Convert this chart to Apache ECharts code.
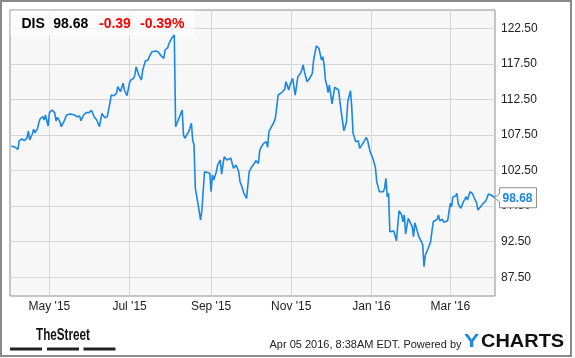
<!DOCTYPE html>
<html><head><meta charset="utf-8">
<script src="https://cdn.jsdelivr.net/npm/echarts@6/dist/echarts.min.js"></script>
<style>html,body{margin:0;padding:0;background:#fff}#c{width:575px;height:358px}</style>
</head><body><div id="c"></div>
<script>
const ticker = 'DIS', lastPrice = '98.68', change = '-0.39', changePct = '-0.39%';
const footerText = 'Apr 05 2016, 8:38AM EDT. Powered by';
const yTicks = [87.5, 92.5, 97.5, 102.5, 107.5, 112.5, 117.5, 122.5];
const xTickDates = ['2015-05-01','2015-07-01','2015-09-01','2015-11-01','2016-01-01','2016-03-01'];
const xTickLabels = ["May '15","Jul '15","Sep '15","Nov '15","Jan '16","Mar '16"];
const xStart = '2015-04-01', xEnd = '2016-04-04';
const dates = [
'2015-04-02','2015-04-05','2015-04-07','2015-04-08','2015-04-10','2015-04-12','2015-04-14','2015-04-15','2015-04-16','2015-04-18',
'2015-04-19','2015-04-20','2015-04-22','2015-04-23','2015-04-24','2015-04-26','2015-04-27','2015-04-28','2015-04-30','2015-05-01',
'2015-05-03','2015-05-05','2015-05-06','2015-05-07','2015-05-09','2015-05-10','2015-05-12','2015-05-14','2015-05-17','2015-05-18',
'2015-05-20','2015-05-22','2015-05-24','2015-05-25','2015-05-27','2015-05-29','2015-05-31','2015-06-02','2015-06-03','2015-06-04',
'2015-06-06','2015-06-08','2015-06-10','2015-06-12','2015-06-14','2015-06-15','2015-06-16','2015-06-17','2015-06-19','2015-06-21',
'2015-06-22','2015-06-24','2015-06-26','2015-06-27','2015-06-29','2015-07-01','2015-07-02','2015-07-04','2015-07-05','2015-07-06',
'2015-07-08','2015-07-10','2015-07-11','2015-07-13','2015-07-15','2015-07-16','2015-07-18','2015-07-19','2015-07-21','2015-07-23',
'2015-07-25','2015-07-27','2015-07-28','2015-07-30','2015-07-31','2015-08-02','2015-08-04','2015-08-05','2015-08-07','2015-08-10',
'2015-08-11','2015-08-12','2015-08-13','2015-08-15','2015-08-17','2015-08-18','2015-08-19','2015-08-20','2015-08-22','2015-08-24',
'2015-08-25','2015-08-27','2015-08-28','2015-08-31','2015-09-01','2015-09-02','2015-09-03','2015-09-05','2015-09-06','2015-09-08',
'2015-09-09','2015-09-10','2015-09-11','2015-09-13','2015-09-14','2015-09-16','2015-09-17','2015-09-18','2015-09-19','2015-09-20',
'2015-09-22','2015-09-23','2015-09-24','2015-09-26','2015-09-28','2015-09-29','2015-09-30','2015-10-02','2015-10-04','2015-10-05',
'2015-10-07','2015-10-08','2015-10-09','2015-10-11','2015-10-13','2015-10-14','2015-10-15','2015-10-17','2015-10-19','2015-10-20',
'2015-10-22','2015-10-23','2015-10-25','2015-10-27','2015-10-28','2015-10-30','2015-10-31','2015-11-02','2015-11-04','2015-11-05',
'2015-11-06','2015-11-08','2015-11-09','2015-11-10','2015-11-11','2015-11-13','2015-11-15','2015-11-17','2015-11-18','2015-11-19',
'2015-11-20','2015-11-22','2015-11-23','2015-11-24','2015-11-25','2015-11-26','2015-11-27','2015-11-28','2015-11-29','2015-11-30',
'2015-12-02','2015-12-04','2015-12-05','2015-12-07','2015-12-08','2015-12-09','2015-12-11','2015-12-12','2015-12-13','2015-12-14',
'2015-12-16','2015-12-17','2015-12-18','2015-12-19','2015-12-20','2015-12-22','2015-12-23','2015-12-25','2015-12-27','2015-12-28',
'2015-12-29','2015-12-31','2016-01-02','2016-01-04','2016-01-05','2016-01-07','2016-01-08','2016-01-10','2016-01-11','2016-01-12',
'2016-01-13','2016-01-14','2016-01-15','2016-01-16','2016-01-18','2016-01-20','2016-01-22','2016-01-24','2016-01-25','2016-01-26',
'2016-01-27','2016-01-29','2016-01-30','2016-02-01','2016-02-02','2016-02-03','2016-02-04','2016-02-05','2016-02-06','2016-02-08',
'2016-02-09','2016-02-10','2016-02-11','2016-02-13','2016-02-15','2016-02-17','2016-02-18','2016-02-20','2016-02-21','2016-02-22',
'2016-02-24','2016-02-25','2016-02-26','2016-02-28','2016-02-29','2016-03-01','2016-03-02','2016-03-03','2016-03-05','2016-03-06',
'2016-03-07','2016-03-08','2016-03-09','2016-03-11','2016-03-12','2016-03-13','2016-03-14','2016-03-15','2016-03-16','2016-03-18',
'2016-03-19','2016-03-21','2016-03-22','2016-03-24','2016-03-26','2016-03-28','2016-03-30','2016-04-01','2016-04-02','2016-04-04'
];
const prices = [
105.96,105.77,105.49,106.66,106.94,106.70,107.12,108.06,106.80,107.64,
108.30,107.82,108.44,109.29,109.79,110.07,109.61,110.31,108.77,110.64,
111.02,110.64,109.47,109.99,109.37,108.67,109.37,110.31,110.45,110.55,
110.31,110.07,110.17,109.51,110.31,110.64,110.64,110.97,110.69,110.07,
109.61,108.67,110.55,109.93,110.07,111.02,111.96,113.12,113.03,113.36,
114.29,113.59,114.77,113.83,113.03,114.91,115.23,115.47,115.94,117.06,
115.94,115.23,116.64,117.90,118.04,118.51,119.21,119.45,119.31,119.13,
118.61,118.28,119.45,119.77,120.39,121.09,121.56,108.67,109.61,111.02,
107.50,107.04,107.26,107.97,109.15,106.80,106.10,100.01,97.90,95.55,
96.96,102.34,102.58,102.12,99.53,101.88,101.18,102.34,103.28,103.99,
101.98,103.28,104.45,103.99,103.75,104.23,103.52,102.82,103.05,103.28,
102.34,100.94,100.47,99.31,98.60,100.47,102.34,103.05,103.52,103.89,
103.52,105.29,105.77,106.33,106.56,105.77,107.97,108.67,109.37,109.99,
113.12,113.26,113.50,113.93,114.99,113.83,114.53,115.47,113.12,112.98,
115.70,116.17,116.64,117.34,116.40,114.99,115.47,116.17,118.04,118.99,
120.01,119.69,119.45,118.04,118.51,117.34,115.23,114.53,113.45,114.53,
111.86,114.21,114.07,113.83,112.18,110.78,108.11,108.67,109.37,112.18,
113.73,111.48,107.74,107.18,106.56,106.70,105.63,106.19,106.80,107.18,
106.80,105.15,104.23,102.96,100.94,99.53,99.31,99.53,100.01,101.41,
98.80,99.31,93.91,93.91,94.01,92.64,96.86,96.26,95.31,96.26,
93.59,95.79,95.55,94.61,93.21,95.17,95.45,93.91,93.21,92.50,
92.04,88.99,90.63,91.48,92.50,95.31,95.17,95.65,96.26,95.45,
95.65,95.23,95.41,95.45,96.72,97.90,97.42,98.83,98.93,99.31,
97.80,97.90,97.20,98.13,98.46,98.83,98.36,98.93,99.53,99.21,
98.74,97.98,96.96,97.42,97.90,98.22,99.21,99.07,98.83,98.68
];

const FONT = 'Arial, "Liberation Sans", sans-serif';
const BLUE = '#1a87e6';
const toTime = d => echarts.time.parse(d).getTime();
const tickTimes = xTickDates.map(toTime);
const chart = echarts.init(document.getElementById('c'), null, {renderer: 'canvas'});

chart.setOption({
  animation: false,
  backgroundColor: '#fff',
  grid: {left: 10, top: 10, right: 80, bottom: 62, show: true, backgroundColor: '#f7f7f7', borderColor: '#8e8e8e', borderWidth: 1, z: 0},
  xAxis: {
    type: 'value', min: toTime(xStart), max: toTime(xEnd),
    axisLine: {show: false}, axisTick: {show: false, customValues: tickTimes},
    splitLine: {show: true, lineStyle: {color: '#d6d6d6', width: 1}},
    axisLabel: {customValues: tickTimes, color: '#222', fontSize: 12, fontFamily: FONT, margin: 5, hideOverlap: false,
      formatter: v => { let bi = 0, bd = Infinity; tickTimes.forEach((t, i) => { const d = Math.abs(t - v); if (d < bd) { bd = d; bi = i; } }); return xTickLabels[bi]; }}
  },
  yAxis: {
    type: 'value', position: 'right', min: 84.87, max: 125.07,
    axisLine: {show: false}, axisTick: {show: false, customValues: yTicks},
    splitLine: {show: true, lineStyle: {color: '#d6d6d6', width: 1}},
    axisLabel: {customValues: yTicks, color: '#222', fontSize: 12, fontFamily: FONT, margin: 6, formatter: v => v.toFixed(2)}
  },
  series: [{
    type: 'line', data: dates.map((d, i) => [toTime(d), prices[i]]), showSymbol: false, z: 3,
    lineStyle: {color: BLUE, width: 1.6}, silent: true
  }]
});

const lastPt = chart.convertToPixel({seriesIndex: 0}, [toTime(dates[dates.length - 1]), prices[prices.length - 1]]);
const px = 494.5, py = lastPt[1];

chart.setOption({
  graphic: [
    {type: 'rect', shape: {x: 1, y: 1, width: 570, height: 355}, style: {fill: 'none', stroke: '#8a8a8a', lineWidth: 2}, z: 20, silent: true},
    {type: 'rect', shape: {x: 10.5, y: 10.5, width: 184, height: 25}, style: {fill: 'rgba(255,255,255,0.65)'}, z: 1, silent: true},
    {type: 'text', x: 21.5, y: 24, style: {text: ticker, font: 'bold 14px ' + FONT, fill: '#000', textVerticalAlign: 'middle'}, z: 10},
    {type: 'text', x: 53.3, y: 24, style: {text: lastPrice, font: 'bold 14px ' + FONT, fill: '#000', textVerticalAlign: 'middle'}, z: 10},
    {type: 'text', x: 99, y: 24, style: {text: change, font: 'bold 14px ' + FONT, fill: '#f00', textVerticalAlign: 'middle'}, z: 10},
    {type: 'text', x: 140, y: 24, style: {text: changePct, font: 'bold 14px ' + FONT, fill: '#f00', textVerticalAlign: 'middle'}, z: 10},
    {type: 'polygon', shape: {points: [[px + 5, py - 10], [px + 42, py - 10], [px + 42, py + 10], [px + 5, py + 10], [px + 5, py + 4], [px, py], [px + 5, py - 4]]},
      style: {fill: '#fff', stroke: '#8e8e8e', lineWidth: 1}, z: 15},
    {type: 'text', x: px + 8, y: py + 0.5, style: {text: lastPrice, font: 'bold 12px ' + FONT, fill: BLUE, textVerticalAlign: 'middle'}, z: 16},
    {type: 'text', x: 36, y: 336, scaleX: 0.73, style: {text: 'TheStreet', font: 'bold 16px ' + FONT, fill: '#111', textVerticalAlign: 'middle'}, z: 10},
    {type: 'rect', shape: {x: 10, y: 347.5, width: 32, height: 3}, style: {fill: '#222'}, z: 10},
    {type: 'rect', shape: {x: 47, y: 347.5, width: 32, height: 3}, style: {fill: '#222'}, z: 10},
    {type: 'rect', shape: {x: 83.5, y: 347.5, width: 32, height: 3}, style: {fill: '#222'}, z: 10},
    {type: 'text', x: 269.5, y: 345, style: {text: footerText, font: '11px ' + FONT, fill: '#222', textVerticalAlign: 'middle'}, z: 10},
    {type: 'text', x: 464, y: 342, scaleX: 1.2, style: {text: 'Y', font: 'bold 19px ' + FONT, fill: BLUE, textVerticalAlign: 'middle'}, z: 10},
    {type: 'text', x: 481, y: 342, scaleX: 1.05, style: {text: 'CHARTS', font: 'bold 19px ' + FONT, fill: '#111', textVerticalAlign: 'middle'}, z: 10}
  ]
});
</script></body></html>
